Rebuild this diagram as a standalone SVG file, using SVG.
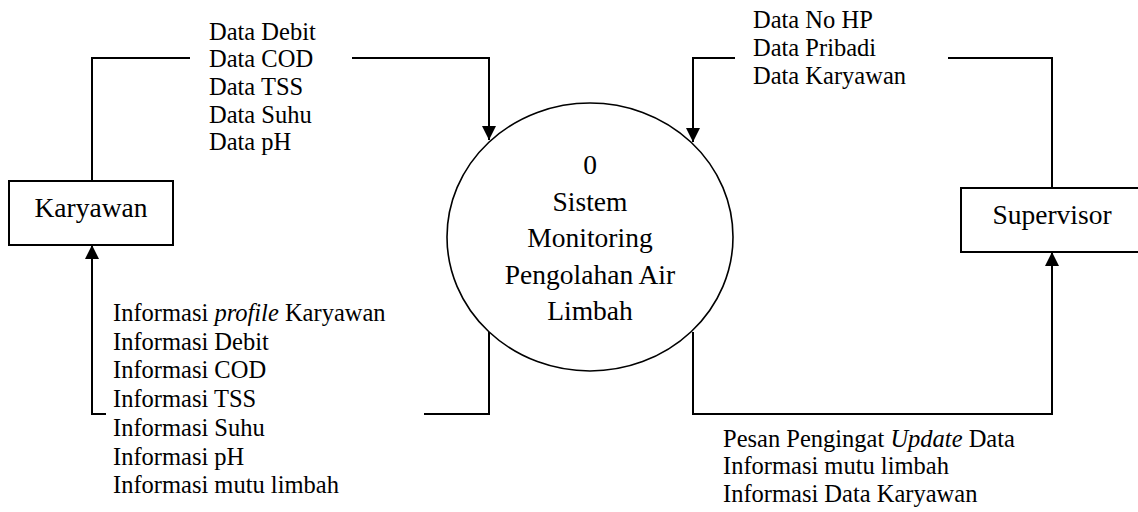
<svg xmlns="http://www.w3.org/2000/svg" width="1138" height="512" viewBox="0 0 1138 512">
<style>
  .bg { fill: #ffffff; }
  .node { fill: #ffffff; stroke: #000000; stroke-width: 2; }
  .proc { fill: #ffffff; stroke: #000000; stroke-width: 1.6; }
  .flow { fill: none; stroke: #000000; stroke-width: 2; }
  .t { font-family: "Liberation Serif", "Times New Roman", serif; fill: #000000; }
  .nt { font-size: 27.5px; text-anchor: middle; }
  .lbl { font-size: 24.5px; }
</style>
<defs>
  <marker id="arr" markerUnits="userSpaceOnUse" markerWidth="14" markerHeight="14" viewBox="0 0 14 14" refX="14" refY="7" orient="auto">
    <path d="M0,0 L14,7 L0,14 z" fill="#000000"/>
  </marker>
</defs>
<rect class="bg" x="0" y="0" width="1138" height="512"/>

<g id="connectors">
  <path class="flow" d="M92,181 V58 H190"/>
  <path class="flow" d="M352,58 H489 V140" marker-end="url(#arr)"/>
  <path class="flow" d="M1052,188 V58 H948"/>
  <path class="flow" d="M735,58 H693 V142" marker-end="url(#arr)"/>
  <path class="flow" d="M489,332 V414 H424"/>
  <path class="flow" d="M106,414 H92 V245" marker-end="url(#arr)"/>
  <path class="flow" d="M693,332 V414 H1052 V252" marker-end="url(#arr)"/>
</g>

<g id="label-data-karyawan">
  <text class="t lbl" x="209" y="39.5">Data Debit</text>
  <text class="t lbl" x="209" y="67.2">Data COD</text>
  <text class="t lbl" x="209" y="94.9">Data TSS</text>
  <text class="t lbl" x="209" y="122.6">Data Suhu</text>
  <text class="t lbl" x="209" y="150.3">Data pH</text>
</g>

<g id="label-data-supervisor">
  <text class="t lbl" x="753" y="28.3">Data No HP</text>
  <text class="t lbl" x="753" y="56.3">Data Pribadi</text>
  <text class="t lbl" x="753" y="84.3">Data Karyawan</text>
</g>

<g id="label-info-karyawan">
  <text class="t lbl" x="113" y="321">Informasi <tspan font-style="italic">profile</tspan> Karyawan</text>
  <text class="t lbl" x="113" y="349.7">Informasi Debit</text>
  <text class="t lbl" x="113" y="378.4">Informasi COD</text>
  <text class="t lbl" x="113" y="407.1">Informasi TSS</text>
  <text class="t lbl" x="113" y="435.8">Informasi Suhu</text>
  <text class="t lbl" x="113" y="464.5">Informasi pH</text>
  <text class="t lbl" x="113" y="493.2">Informasi mutu limbah</text>
</g>

<g id="label-info-supervisor">
  <text class="t lbl" x="723" y="446.7">Pesan Pengingat <tspan font-style="italic">Update</tspan> Data</text>
  <text class="t lbl" x="723" y="474.2">Informasi mutu limbah</text>
  <text class="t lbl" x="723" y="501.7">Informasi Data Karyawan</text>
</g>

<g id="karyawan">
  <rect class="node" x="9" y="181" width="164" height="64"/>
  <text class="t nt" x="91" y="217">Karyawan</text>
</g>

<g id="supervisor">
  <rect class="node" x="961" y="188" width="190" height="64"/>
  <text class="t nt" x="1052" y="224">Supervisor</text>
</g>

<g id="process-0">
  <ellipse class="proc" cx="590" cy="237" rx="143" ry="134"/>
  <text class="t nt" x="590" y="174">0</text>
  <text class="t nt" x="590" y="210.5">Sistem</text>
  <text class="t nt" x="590" y="247">Monitoring</text>
  <text class="t nt" x="590" y="283.5">Pengolahan Air</text>
  <text class="t nt" x="590" y="320">Limbah</text>
</g>
</svg>
